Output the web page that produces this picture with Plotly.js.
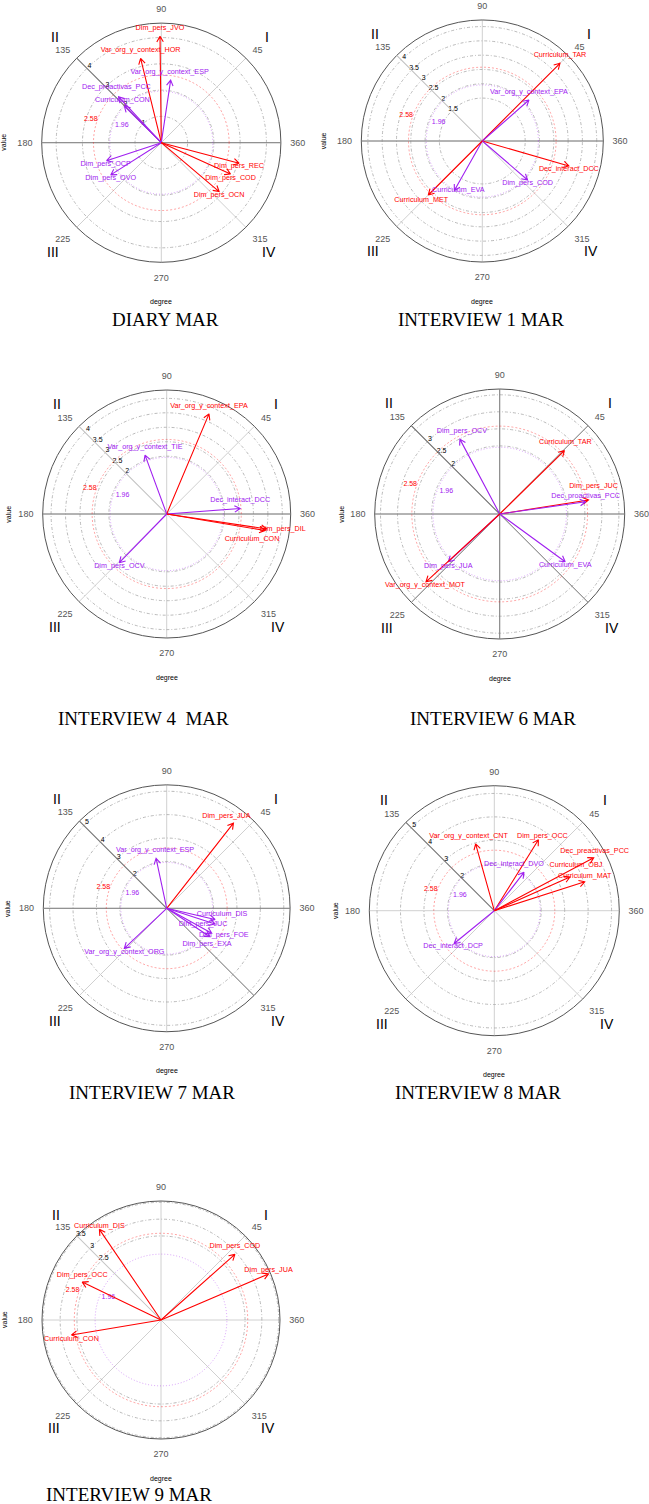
<!DOCTYPE html>
<html>
<head>
<meta charset="utf-8">
<script src="https://cdn.plot.ly/plotly-3.0.1.min.js"></script>
<style>
  html, body { margin: 0; padding: 0; background: #fff; }
  #chart { width: 649px; height: 1504px; }
</style>
</head>
<body>
<div id="chart"></div>
<script>
// Vector length (Zsum radius) and angle in degrees
const diaryNames = ['Dim_pers_JVO', 'Var_org_y_context_HOR', 'Var_org_y_context_ESP', 'Dec_proactivas_PCC', 'Curriculum_CON',
  'Dim_pers_OCP', 'Dim_pers_OVO', 'Dim_pers_REC', 'Dim_pers_COD', 'Dim_pers_OCN'];
const diaryRadius = [4.05, 3.30, 2.41, 2.39, 1.98, 2.19, 2.28, 3.06, 2.89, 2.88];
const diaryAngle = [90.7, 103.8, 81.5, 133, 135.2, 198.2, 212.5, 345.2, 335.7, 319.8];

const int1Names = ['Curriculum_TAR', 'Var_org_y_context_EPA', 'Dec_interact_DCC', 'Dim_pers_COD', 'Curriculum_EVA', 'Curriculum_MET'];
const int1Radius = [3.84, 2.17, 3.15, 2.09, 1.99, 2.67];
const int1Angle = [45, 41.3, 343.9, 319.3, 240.6, 225];

const int4Names = ['Var_org_y_context_EPA', 'Var_org_y_context_TIE', 'Dec_interact_DCC', 'Dim_pers_DIL', 'Curriculum_CON', 'Dim_pers_OCV'];
const int4Radius = [3.76, 2.17, 2.55, 3.50, 3.45, 2.35];
const int4Angle = [67.1, 110.2, 4.3, 351.5, 350.5, 225.8];

const int6Names = ['Dim_pers_OCV', 'Curriculum_TAR', 'Dim_pers_JUC', 'Dec_proactivas_PCC', 'Curriculum_EVA', 'Dim_pers_JUA', 'Var_org_y_context_MOT'];
const int6Radius = [2.49, 2.66, 2.64, 2.55, 2.38, 2.06, 2.94];
const int6Angle = [118, 44.4, 9.0, 8.1, 323.9, 222.9, 222.6];

const int7Names = ['Dim_pers_JUA', 'Var_org_y_context_ESP', 'Curriculum_DIS', 'Dim_pers_JUC', 'Dim_pers_FOE', 'Dim_pers_EXA', 'Var_org_y_context_ORG'];
const int7Radius = [4.62, 2.18, 2.12, 2.17, 2.20, 2.21, 2.49];
const int7Angle = [51.9, 102, 347, 342, 331, 326.7, 223.4];

const int8Names = ['Var_org_y_context_CNT', 'Dim_pers_OCC', 'Dec_interact_DVO', 'Dec_preactivas_PCC', 'Curriculum_OBJ', 'Curriculum_MAT', 'Dec_interact_DCP'];
const int8Radius = [2.96, 3.56, 2.07, 4.80, 3.53, 4.05, 2.21];
const int8Angle = [105.6, 58.1, 52.3, 28, 24, 17.7, 219.2];

const int9Names = ['Curriculum_DIS', 'Dim_pers_COD', 'Dim_pers_JUA', 'Dim_pers_OCC', 'Curriculum_CON'];
const int9Radius = [3.26, 2.94, 3.48, 2.60, 2.70];
const int9Angle = [124.2, 41.6, 23.2, 154.3, 189.5];

// radial tick labels on each panel
const diaryTicks = [1, 2, 3, 4];
const int1Ticks = [1.5, 2, 2.5, 3, 3.5, 4];
const int4Ticks = [2, 2.5, 3, 3.5, 4];
const int6Ticks = [2, 2.5, 3];
const int7Ticks = [2, 3, 4, 5];
const int8Ticks = [2, 3, 4, 5];
const int9Ticks = [2.5, 3, 3.5];

const angleTicks = [0, 45, 90, 135, 180, 225, 270, 315];
const angleText = ['360', '45', '90', '135', '180', '225', '270', '315'];
const SIG1 = 1.96, SIG2 = 2.58;

const W = 649, H = 1504;
const RED = '#ff0000', PURPLE = '#a020f0';

// layout of the panels (pixels) and label nudges [dx, dy up] in pixels
const panels = [
  { names: diaryNames, radius: diaryRadius, angle: diaryAngle, ticks: diaryTicks, grid: diaryTicks,
    cx: 161.3, cy: 142.7, R: 119.6, rmax: 4.55, dark: [0, 180], axisLine: '#777',
    shift: [[0, 8], [0, 8], [-1, 8], [-2, 10], [-2, 6], [-1, -4], [0, -3], [0, -3], [0, -4], [0, -4]],
    caption: 'DIARY MAR', capX: 165, capY: 320 },
  { names: int1Names, radius: int1Radius, angle: int1Angle, ticks: int1Ticks, grid: int1Ticks,
    cx: 482.3, cy: 141, R: 121, rmax: 4.23, dark: [0, 180], axisLine: '#c8c8c8',
    shift: [[0, 8], [0, 8], [0, -3], [0, -3], [4, 0], [-7, -5]],
    caption: 'INTERVIEW 1 MAR', capX: 481, capY: 320 },
  { names: int4Names, radius: int4Radius, angle: int4Angle, ticks: int4Ticks, grid: int4Ticks,
    cx: 166.7, cy: 514, R: 124, rmax: 4.29, dark: [0, 180], axisLine: '#c8c8c8',
    shift: [[0, 8], [0, 8], [0, 8], [16, 0], [-13, -9], [0, -4]],
    caption: 'INTERVIEW 4  MAR', capX: 143, capY: 718 },
  { names: int6Names, radius: int6Radius, angle: int6Angle, ticks: int6Ticks, grid: [2, 2.5, 3, 3.5],
    cx: 499.7, cy: 514, R: 125, rmax: 3.67, dark: angleTicks, axisLine: '#777',
    shift: [[2, 8], [1, 8], [5, 14], [0, 6], [0, -3], [0, -4], [-1, -3]],
    caption: 'INTERVIEW 6 MAR', capX: 493, capY: 718 },
  { names: int7Names, radius: int7Radius, angle: int7Angle, ticks: int7Ticks, grid: int7Ticks,
    cx: 166.7, cy: 908.3, R: 123.4, rmax: 5.27, dark: [0, 180, 315], axisLine: '#777',
    shift: [[-7, 7], [-1, 8], [7, 5], [-12, 0], [12, -2], [-3, -8], [0, -4]],
    caption: 'INTERVIEW 7 MAR', capX: 152, capY: 1092 },
  { names: int8Names, radius: int8Radius, angle: int8Angle, ticks: int8Ticks, grid: int8Ticks,
    cx: 494.3, cy: 910.7, R: 125, rmax: 5.33, dark: [], axisLine: '#777',
    shift: [[-7, 8], [4, 4], [-10, 8], [1, 7], [6, 12], [0, 6], [-1, -3]],
    caption: 'INTERVIEW 8 MAR', capX: 478, capY: 1092 },
  { names: int9Names, radius: int9Radius, angle: int9Angle, ticks: int9Ticks, grid: int9Ticks,
    cx: 161, cy: 1320, R: 119, rmax: 3.54, dark: [], axisLine: '#c8c8c8',
    shift: [[-4, 8], [0, 8], [0, 7], [0, 7], [0, -4]],
    caption: 'INTERVIEW 9 MAR', capX: 129, capY: 1494 }
];

const rad = d => d * Math.PI / 180;

function toPolar(x, y) {
  let t = Math.atan2(y, x) * 180 / Math.PI;
  if (t < 0) t += 360;
  return { r: Math.hypot(x, y), t: t };
}

// move a data point by pixel amounts (s = pixels per unit)
function nudge(r, t, dx, dy, s) {
  return toPolar(r * Math.cos(rad(t)) + dx / s, r * Math.sin(rad(t)) + dy / s);
}

function polarId(n) { return n === 1 ? 'polar' : 'polar' + n; }

function note(x, y, text, font, extra) {
  return Object.assign({
    xref: 'paper', yref: 'paper', x: x / W, y: 1 - y / H, xanchor: 'center', yanchor: 'middle',
    text: text, showarrow: false, font: font
  }, extra || {});
}

const traces = [];
const layout = {
  width: W, height: H,
  margin: { l: 0, r: 0, t: 0, b: 0 },
  paper_bgcolor: '#fff',
  showlegend: false,
  font: { family: 'Liberation Sans, Arial, sans-serif', color: '#000' },
  annotations: []
};

panels.forEach((p, i) => {
  const base = polarId(3 * i + 1), mid = polarId(3 * i + 2), top = polarId(3 * i + 3);
  const s = p.R / p.rmax;
  const domain = {
    x: [(p.cx - p.R) / W, (p.cx + p.R) / W],
    y: [1 - (p.cy + p.R) / H, 1 - (p.cy - p.R) / H]
  };

  layout[base] = {
    domain: domain, bgcolor: 'rgba(0,0,0,0)',
    angularaxis: {
      rotation: 0, direction: 'counterclockwise', tickmode: 'array',
      tickvals: angleTicks, ticktext: angleText,
      tickfont: { size: 9, color: '#555' }, ticks: 'outside', ticklen: 7, tickcolor: 'rgba(0,0,0,0)',
      showline: true, linecolor: '#555', linewidth: 1, gridcolor: '#d0d0d0', gridwidth: 1
    },
    radialaxis: {
      range: [0, p.rmax], tickmode: 'array', tickvals: p.grid, showticklabels: false, ticks: '',
      angle: 135, showline: true, linecolor: p.axisLine, linewidth: 1,
      gridcolor: '#a8a8a8', griddash: '3px,2px,1px,2px', gridwidth: 0.8
    }
  };
  layout[mid] = {
    domain: domain, bgcolor: 'rgba(0,0,0,0)',
    angularaxis: {
      rotation: 0, direction: 'counterclockwise', tickmode: 'array',
      tickvals: p.dark.length ? p.dark : [0], showgrid: p.dark.length > 0, gridcolor: '#808080',
      showticklabels: false, ticks: '', showline: false
    },
    radialaxis: {
      range: [0, p.rmax], tickmode: 'array', tickvals: [SIG1], showticklabels: false, ticks: '',
      showline: false, gridcolor: 'rgba(160,32,240,0.45)', griddash: '1px,2px', gridwidth: 0.9
    }
  };
  layout[top] = {
    domain: domain, bgcolor: 'rgba(0,0,0,0)',
    angularaxis: { rotation: 0, direction: 'counterclockwise', visible: false },
    radialaxis: {
      range: [0, p.rmax], tickmode: 'array', tickvals: [SIG2], showticklabels: false, ticks: '',
      showline: false, gridcolor: 'rgba(255,0,0,0.4)', griddash: '2px,2px', gridwidth: 0.9, layer: 'below traces'
    }
  };

  // radial tick labels along the 135 degree line (also makes the base subplot draw)
  traces.push({
    type: 'scatterpolar', subplot: base, mode: 'text', cliponaxis: false, hoverinfo: 'skip',
    r: p.ticks, theta: p.ticks.map(() => 133), text: p.ticks.map(String),
    textfont: { size: 7, color: '#000' }, textposition: 'middle center'
  });

  // significance labels 1.96 / 2.58
  traces.push({
    type: 'scatterpolar', subplot: mid, mode: 'text', cliponaxis: false, hoverinfo: 'skip',
    r: [SIG2 + 6.5 / s, SIG1 - 8.5 / s], theta: [161.5, 156.5], text: [String(SIG2), String(SIG1)],
    textfont: { size: 7, color: [RED, PURPLE] }, textposition: 'middle center'
  });

  // vectors with open arrow heads
  const head = 6.5 / s;
  p.names.forEach((name, k) => {
    const r = p.radius[k], t = p.angle[k];
    const color = r >= SIG2 ? RED : PURPLE;
    const tx = r * Math.cos(rad(t)), ty = r * Math.sin(rad(t));
    const h1 = toPolar(tx - head * Math.cos(rad(t - 30)), ty - head * Math.sin(rad(t - 30)));
    const h2 = toPolar(tx - head * Math.cos(rad(t + 30)), ty - head * Math.sin(rad(t + 30)));
    traces.push({
      type: 'scatterpolar', subplot: top, mode: 'lines', cliponaxis: false, hoverinfo: 'skip',
      r: [0, r, h1.r, r, h2.r], theta: [t, t, h1.t, t, h2.t],
      line: { color: color, width: 1.1 }
    });
  });

  // vector labels; a label that would fall past the rim sits on its tip instead
  const lab = p.names.map((n, k) => {
    const d = nudge(p.radius[k], p.angle[k], p.shift[k][0], p.shift[k][1], s);
    if (d.r < p.rmax * 0.995) return { r: d.r, t: d.t, pos: 'middle center' };
    return { r: p.radius[k], t: p.angle[k], pos: p.shift[k][1] > 0 ? 'top center' : 'bottom center' };
  });
  traces.push({
    type: 'scatterpolar', subplot: top, mode: 'text', cliponaxis: false, hoverinfo: 'skip',
    r: lab.map(d => d.r), theta: lab.map(d => d.t), text: p.names,
    textfont: { size: 7.2, color: p.radius.map(r => (r >= SIG2 ? RED : PURPLE)) },
    textposition: lab.map(d => d.pos)
  });

  // quadrant numerals, axis names, caption
  const q = 0.885 * p.R;
  [['I', q, -q], ['II', -q, -q], ['III', -q - 2, q + 3], ['IV', q + 2, q + 3]].forEach(([txt, dx, dy]) => {
    layout.annotations.push(note(p.cx + dx, p.cy + dy, txt, { size: 14, color: '#000' }));
  });
  layout.annotations.push(note(Math.max(p.cx - 159, 4), p.cy, 'value', { size: 7, color: '#000' }, { textangle: -90 }));
  layout.annotations.push(note(p.cx, p.cy + p.R + 39.5, 'degree', { size: 7, color: '#000' }));
  layout.annotations.push(note(p.capX, p.capY, p.caption,
    { size: 19, color: '#000', family: 'Liberation Serif, Times New Roman, serif' }));
});

Plotly.newPlot('chart', traces, layout, { staticPlot: true, displayModeBar: false });
</script>
</body>
</html>
